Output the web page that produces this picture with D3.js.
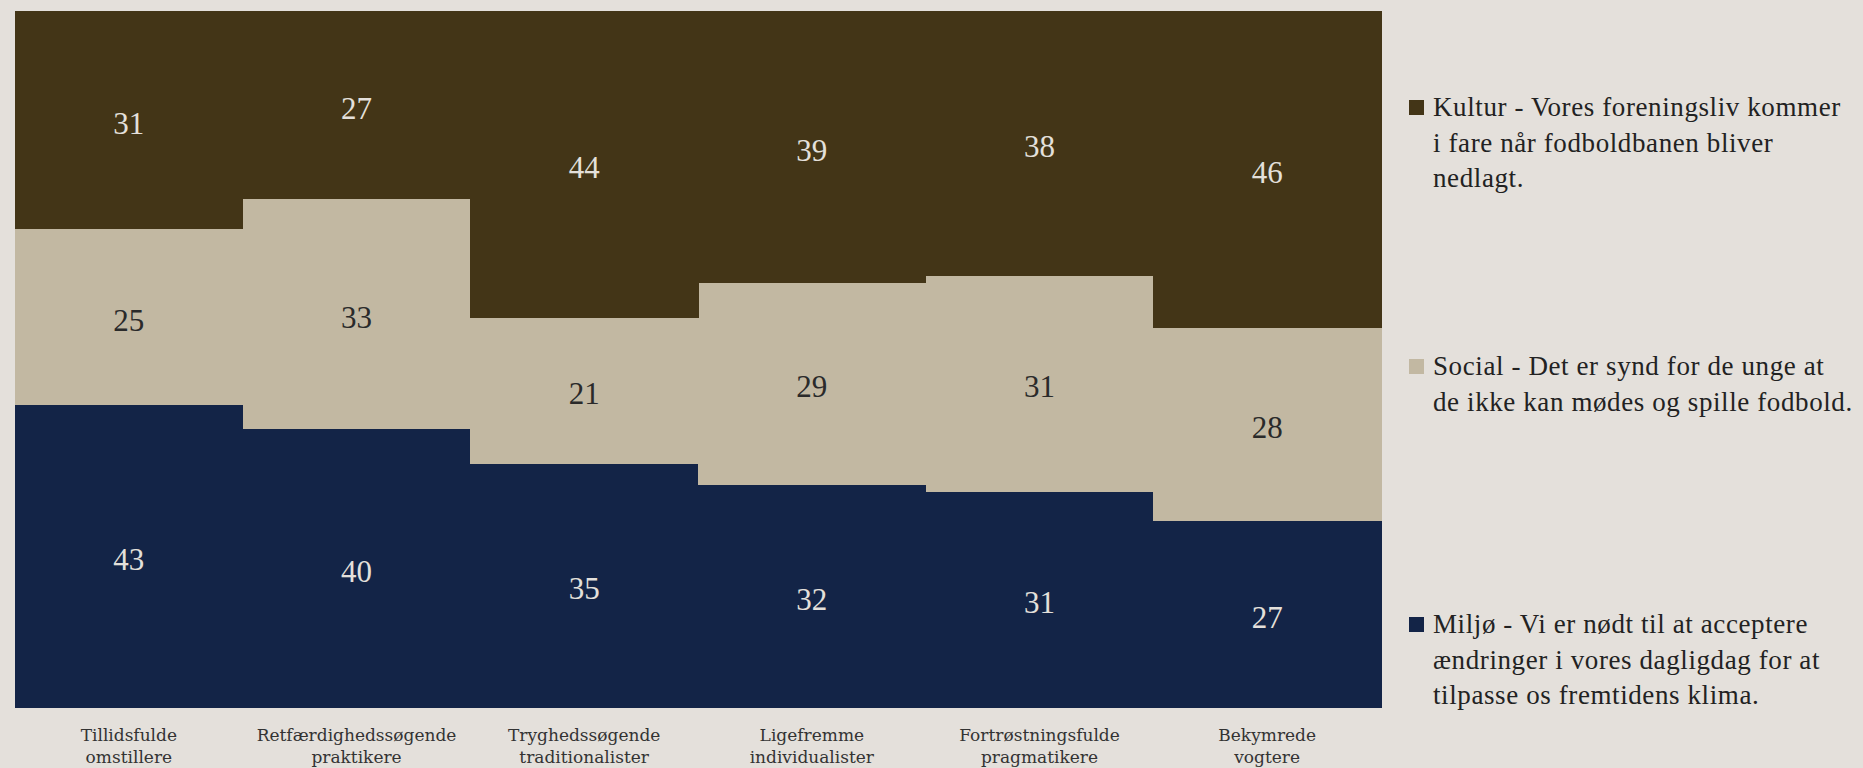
<!DOCTYPE html>
<html>
<head>
<meta charset="utf-8">
<script src="https://cdn.jsdelivr.net/npm/d3@7"></script>
<style>
  html, body { margin: 0; padding: 0; background: #E4E0DB; }
  svg { display: block; }
</style>
</head>
<body>
<svg id="chart" width="1863" height="768"></svg>
<script>
// ---- Data ----
const categories = [
  "Tillidsfulde\nomstillere",
  "Retfærdighedssøgende\npraktikere",
  "Tryghedssøgende\ntraditionalister",
  "Ligefremme\nindividualister",
  "Fortrøstningsfulde\npragmatikere",
  "Bekymrede\nvogtere"
];
const seriesNames = ["Miljø", "Social", "Kultur"];
const miljo  = [43, 40, 35, 32, 31, 27];
const social = [25, 33, 21, 29, 31, 28];
const kultur = [31, 27, 44, 39, 38, 46];
const legendLines = {
  "Kultur": ["Kultur - Vores foreningsliv kommer", "i fare når fodboldbanen bliver", "nedlagt."],
  "Social": ["Social - Det er synd for de unge at", "de ikke kan mødes og spille fodbold."],
  "Miljø":  ["Miljø - Vi er nødt til at acceptere", "ændringer i vores dagligdag for at", "tilpasse os fremtidens klima."]
};

// ---- Styles ----
const colors = { "Miljø": "#132447", "Social": "#C2B8A2", "Kultur": "#433517" };
const labelColors = { "Miljø": "#E4E0DB", "Social": "#2a2a2a", "Kultur": "#E4E0DB" };

const table = categories.map((c, i) => ({ cat: c, "Miljø": miljo[i], "Social": social[i], "Kultur": kultur[i] }));

const svg = d3.select("#chart");
const plot = { left: 15, right: 1381, top: 11, bottom: 707 };

const x = d3.scaleBand().domain(categories).range([plot.left, plot.right]).padding(0);
const y = d3.scaleLinear().domain([0, 1]).range([plot.bottom, plot.top]);

const stack = d3.stack().keys(seriesNames).offset(d3.stackOffsetExpand);
const stacked = stack(table);

const groups = svg.append("g").selectAll("g")
  .data(stacked).join("g")
  .attr("fill", d => colors[d.key]);

groups.selectAll("rect")
  .data(d => d.map(v => Object.assign(v, { key: d.key })))
  .join("rect")
  .attr("x", d => x(d.data.cat))
  .attr("width", x.bandwidth() + 0.5)
  .attr("y", d => y(d[1]))
  .attr("height", d => y(d[0]) - y(d[1]) + 0.5)
  .attr("shape-rendering", "crispEdges");

// value labels
const labels = svg.append("g");
stacked.forEach(s => {
  s.forEach(d => {
    labels.append("text")
      .attr("x", x(d.data.cat) + x.bandwidth() / 2)
      .attr("y", (y(d[0]) + y(d[1])) / 2)
      .attr("dy", "0.45em")
      .attr("text-anchor", "middle")
      .attr("font-family", "'Liberation Serif', serif")
      .attr("font-size", 31)
      .attr("fill", labelColors[s.key])
      .text(d.data[s.key]);
  });
});

// x axis
const xAxis = svg.append("g")
  .attr("transform", `translate(0,${plot.bottom})`)
  .call(d3.axisBottom(x).tickSize(0).tickFormat(() => ""));
xAxis.select(".domain").remove();
xAxis.selectAll(".tick text").remove();
xAxis.selectAll(".tick").each(function(d) {
  const t = d3.select(this).append("text")
    .attr("text-anchor", "middle")
    .attr("font-family", "'DejaVu Serif', serif")
    .attr("font-size", 17)
    .attr("fill", "#333");
  d.split("\n").forEach((line, i) => {
    t.append("tspan").attr("x", 0).attr("y", 34 + i * 22).text(line);
  });
});

// legend
const legendY = { "Kultur": 116, "Social": 375, "Miljø": 633 };
const legend = svg.append("g");
["Kultur", "Social", "Miljø"].forEach(k => {
  const by = legendY[k];
  legend.append("rect")
    .attr("x", 1409).attr("y", by - 16)
    .attr("width", 15).attr("height", 15)
    .attr("fill", colors[k]);
  const t = legend.append("text")
    .attr("font-family", "'Liberation Serif', serif")
    .attr("font-size", 27)
    .attr("letter-spacing", 0.6)
    .attr("fill", "#222");
  legendLines[k].forEach((line, i) => {
    t.append("tspan").attr("x", 1433).attr("y", by + i * 35.5).text(line);
  });
});
</script>
</body>
</html>
